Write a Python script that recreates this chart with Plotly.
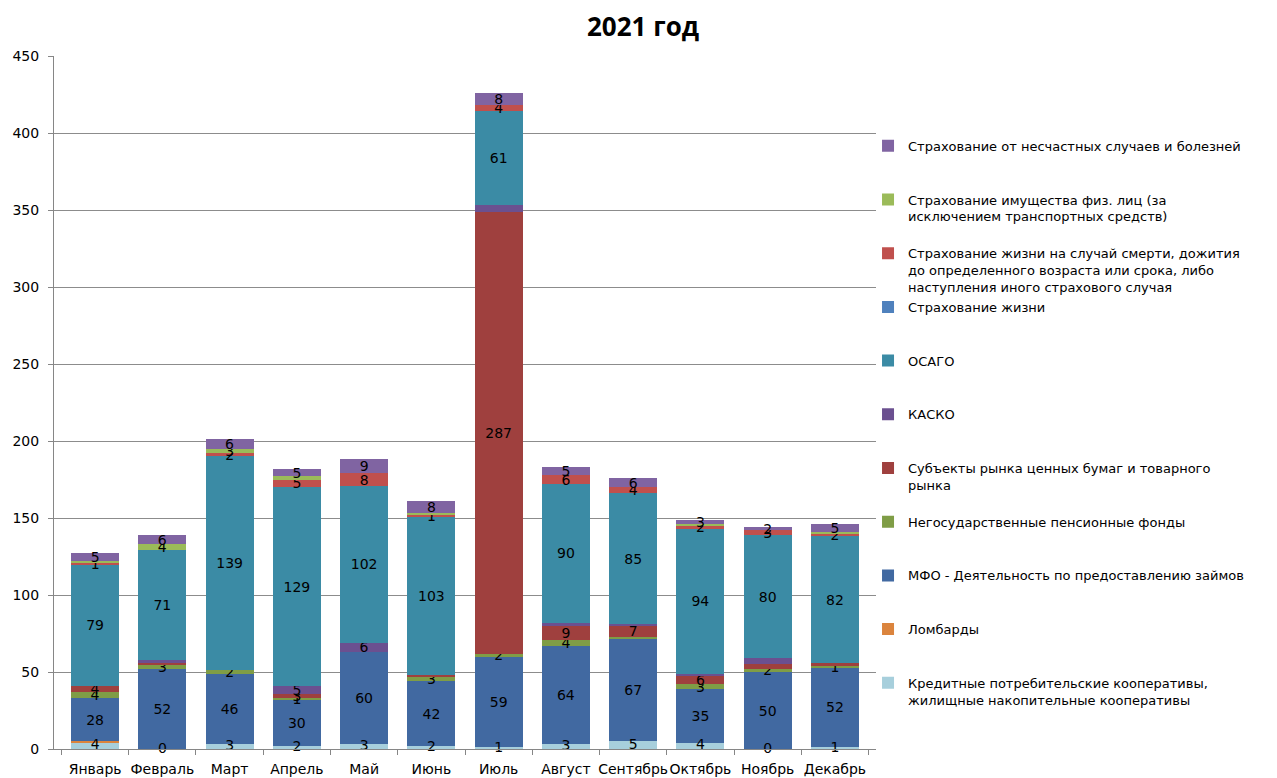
import plotly.graph_objects as go

months = ['Январь', 'Февраль', 'Март', 'Апрель', 'Май', 'Июнь', 'Июль',
          'Август', 'Сентябрь', 'Октябрь', 'Ноябрь', 'Декабрь']

kpk = [4, 0, 3, 2, 3, 2, 1, 3, 5, 4, 0, 1]
lombard = [1, 0, 0, 0, 0, 0, 0, 0, 0, 0, 0, 0]
mfo = [28, 52, 46, 30, 60, 42, 59, 64, 67, 35, 50, 52]
npf = [4, 3, 2, 1, 0, 3, 2, 4, 1, 3, 2, 1]
securities = [4, 1, 0, 3, 0, 1, 287, 9, 7, 6, 3, 2]
kasko = [0, 2, 0, 5, 6, 0, 4, 2, 1, 1, 4, 0]
osago = [79, 71, 139, 129, 102, 103, 61, 90, 85, 94, 80, 82]
life = [0, 0, 0, 0, 0, 0, 0, 0, 0, 0, 0, 0]
life_death = [1, 0, 2, 5, 8, 1, 4, 6, 4, 2, 3, 2]
property_ins = [1, 4, 3, 2, 0, 1, 0, 0, 0, 1, 0, 1]
accident = [5, 6, 6, 5, 9, 8, 8, 5, 6, 3, 2, 5]

# (name, values, colour, months whose label is not shown, show zero labels)
series = [
    ('Кредитные потребительские кооперативы,<br>жилищные накопительные кооперативы',
     kpk, '#A7CFDC', [], True),
    ('Ломбарды', lombard, '#DB843D', [0], False),
    ('МФО - Деятельность по предоставлению займов', mfo, '#4169A1', [], False),
    ('Негосударственные пенсионные фонды', npf, '#7F9D46', [8], False),
    ('Субъекты рынка ценных бумаг и товарного<br>рынка', securities, '#9F403E', [1, 5, 10, 11], False),
    ('КАСКО', kasko, '#6B5090', [1, 6, 7, 8, 9, 10], False),
    ('ОСАГО', osago, '#3B8BA5', [], False),
    ('Страхование жизни', life, '#4F81BD', [], False),
    ('Страхование жизни на случай смерти, дожития<br>до определенного возраста или срока, либо<br>наступления иного страхового случая',
     life_death, '#C0504D', [], False),
    ('Страхование имущества физ. лиц (за<br>исключением транспортных средств)',
     property_ins, '#9BBB59', [0, 3, 5, 9, 11], False),
    ('Страхование от несчастных случаев и болезней', accident, '#8064A2', [], False),
]

FONT = 'DejaVu Sans'
LABEL_FONT = dict(family=FONT, size=14, color='#000000')

fig = go.Figure()
for idx, (name, vals, color, hidden, show_zero) in enumerate(series):
    labels = []
    for i, v in enumerate(vals):
        if i in hidden or (v == 0 and not show_zero):
            labels.append('')
        else:
            labels.append(str(v))
    nlines = name.count('<br>') + 1
    legend_name = name + '<br> ' * (3 - nlines)
    bottom_series = idx == 0
    fig.add_trace(go.Bar(
        x=months, y=vals, name=legend_name,
        text=None if bottom_series else labels,
        textposition='inside', insidetextanchor='middle', textangle=0,
        constraintext='none',
        textfont=LABEL_FONT,
        marker=dict(color=color, line=dict(width=0)),
        cliponaxis=False,
    ))
    if bottom_series:
        # labels of the bottom series (including zeros) at the middle of each segment
        fig.add_trace(go.Scatter(
            x=months, y=[v / 2 for v in vals], text=labels, mode='text',
            textposition='middle center', textfont=LABEL_FONT,
            showlegend=False, hoverinfo='skip', cliponaxis=False,
        ))

fig.update_layout(
    barmode='stack',
    bargap=0.285,
    width=1269, height=770,
    margin=dict(l=46, r=401, t=48, b=29, autoexpand=False),
    paper_bgcolor='white', plot_bgcolor='white',
    title=dict(text='<b>2021 год</b>', x=0.5004, xref='container', xanchor='center',
               y=0.975, yref='container', yanchor='middle',
               font=dict(family='Open Sans', size=26, color='#000000')),
    font=dict(family=FONT, size=14, color='#000000'),
    legend=dict(
        x=0.9903, xanchor='left', y=0.892, yanchor='top',
        traceorder='reversed', valign='top',
        font=dict(family=FONT, size=13, color='#000000'),
        tracegroupgap=0, itemclick=False,
        bgcolor='rgba(0,0,0,0)',
    ),
    xaxis=dict(
        showgrid=False, showline=True, linecolor='#868686', linewidth=1,
        ticks='outside', tickson='boundaries', ticklen=5, tickcolor='#868686',
        tickfont=dict(family=FONT, size=14, color='#000000'),
        tickangle=0, automargin=False, ticklabelstandoff=7,
    ),
    yaxis=dict(
        range=[0, 450], tickvals=[0, 50, 100, 150, 200, 250, 300, 350, 400, 450],
        showgrid=True, gridcolor='#8C8C8C', gridwidth=1,
        showline=True, linecolor='#868686', linewidth=1,
        ticks='outside', ticklen=5, tickcolor='#868686',
        tickfont=dict(family=FONT, size=14, color='#000000'),
        ticklabelstandoff=6, zeroline=False, automargin=False,
    ),
)

fig.write_html('out.html')
